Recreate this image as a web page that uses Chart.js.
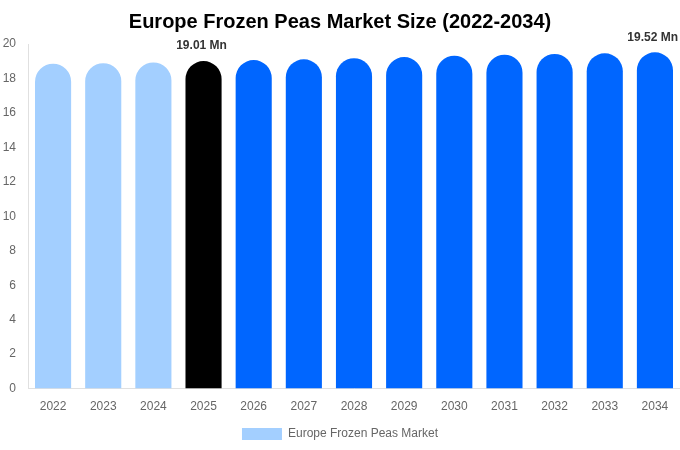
<!DOCTYPE html>
<html>
<head>
<meta charset="utf-8">
<script src="https://cdn.jsdelivr.net/npm/chart.js@4"></script>
<style>
  html, body { margin: 0; padding: 0; background: #fff; }
  #wrap { width: 680px; height: 450px; }
</style>
</head>
<body>
<div id="wrap"><canvas id="marketChart"></canvas></div>
<script>
const years = ['2022', '2023', '2024', '2025', '2026', '2027', '2028', '2029', '2030', '2031', '2032', '2033', '2034'];
const marketSize = [18.86, 18.89, 18.93, 19.01, 19.07, 19.11, 19.18, 19.24, 19.32, 19.38, 19.42, 19.46, 19.52];
const barColors = ['#a3cfff', '#a3cfff', '#a3cfff', '#000000', '#0066ff', '#0066ff', '#0066ff', '#0066ff', '#0066ff', '#0066ff', '#0066ff', '#0066ff', '#0066ff'];
const labelledYears = ['2025', '2034'];
const yTicks = [0, 2, 4, 6, 8, 10, 12, 14, 16, 18, 20];

Chart.defaults.font.family = '"Liberation Sans", Arial, sans-serif';

// draws the "xx.xx Mn" labels over the highlighted bars
const valueLabels = {
    id: 'valueLabels',
    afterDatasetsDraw(chart) {
        const ctx = chart.ctx;
        const meta = chart.getDatasetMeta(0);
        ctx.save();
        ctx.font = 'bold 12px "Liberation Sans", Arial, sans-serif';
        ctx.fillStyle = '#333';
        ctx.textAlign = 'center';
        ctx.textBaseline = 'bottom';
        meta.data.forEach((bar, i) => {
            if (!labelledYears.includes(years[i])) return;
            const txt = marketSize[i].toFixed(2) + ' Mn';
            let x = bar.x - 2;
            const w = ctx.measureText(txt).width;
            if (x + w / 2 > chart.width - 2) x = chart.width - 2 - w / 2;
            ctx.fillText(txt, x, bar.y - 9);
        });
        ctx.restore();
    }
};

new Chart(document.getElementById('marketChart'), {
    type: 'bar',
    data: {
        labels: years,
        datasets: [{
            label: 'Europe Frozen Peas Market',
            data: marketSize,
            backgroundColor: barColors,
            borderRadius: 30,
            borderSkipped: 'bottom'
        }]
    },
    options: {
        responsive: true,
        maintainAspectRatio: false,
        animation: false,
        layout: { padding: 0 },
        plugins: {
            title: {
                display: true,
                text: 'Europe Frozen Peas Market Size (2022-2034)',
                color: '#000',
                font: { size: 20, weight: 'bold' },
                padding: { top: 10, bottom: 10 }
            },
            legend: {
                position: 'bottom',
                labels: {
                    color: '#666',
                    font: { size: 12 },
                    boxWidth: 40,
                    boxHeight: 12,
                    padding: 3,
                    generateLabels() {
                        return [{ text: 'Europe Frozen Peas Market', fillStyle: '#a3cfff', strokeStyle: '#a3cfff', lineWidth: 0, fontColor: '#666' }];
                    }
                }
            },
            tooltip: { enabled: false }
        },
        scales: {
            x: {
                grid: { display: false, drawTicks: false },
                border: { color: '#e0e0e0' },
                ticks: { color: '#666', font: { size: 12 }, padding: 11 }
            },
            y: {
                min: 0,
                max: 20,
                afterBuildTicks(axis) { axis.ticks = yTicks.map(v => ({ value: v })); },
                afterFit(axis) { axis.width = 28; },
                grid: { display: false, drawTicks: false },
                border: { color: '#e0e0e0' },
                ticks: { color: '#666', font: { size: 12 }, padding: 12 }
            }
        }
    },
    plugins: [valueLabels]
});
</script>
</body>
</html>
